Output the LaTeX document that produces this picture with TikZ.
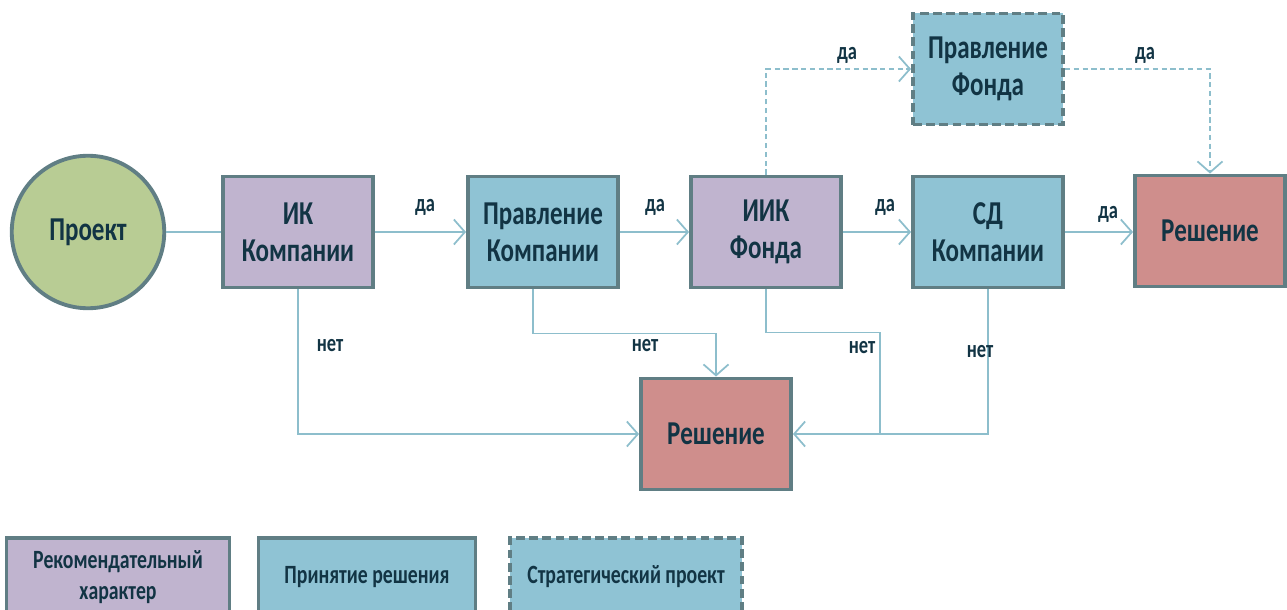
\documentclass[tikz,border=0pt]{standalone}
\usepackage{fontspec}
\setmainfont{Carlito}[FakeStretch=0.75]
\usepackage{tikz}
\usetikzlibrary{arrows.meta,positioning}
\definecolor{frame}{RGB}{96,126,132}
\definecolor{wire}{RGB}{141,190,204}
\definecolor{ink}{RGB}{18,52,68}
\definecolor{lilac}{RGB}{192,180,207}
\definecolor{teal}{RGB}{143,195,212}
\definecolor{rose}{RGB}{207,142,140}
\definecolor{olive}{RGB}{184,204,148}

\begin{document}
\begin{tikzpicture}[
  x=0.2mm, y=-0.2mm,
  box/.style={rectangle, draw=frame, line width=2.2pt, minimum width=3.0cm,
              minimum height=2.22cm, align=center, text=ink,
              font=\bfseries\fontsize{19}{21}\selectfont},
  rec/.style={box, fill=lilac},
  dec/.style={box, fill=teal},
  res/.style={box, fill=rose},
  strat/.style={box, fill=teal, dashed, dash pattern=on 5pt off 2.5pt},
  key/.style={rectangle, draw=frame, line width=2.2pt, minimum height=1.56cm,
              align=center, text=ink,
              font=\bfseries\fontsize{15}{17.6}\selectfont},
  lbl/.style={font=\bfseries\fontsize{14}{15}\selectfont, text=ink},
  conn/.style={draw=wire, line width=1pt},
  arr/.style={conn, -{Straight Barb[length=2.2mm, width=5mm]}},
  darr/.style={arr, dashed, dash pattern=on 3pt off 2pt}
]
\useasboundingbox (0,0) rectangle (1287,610);
% ── main row ──────────────────────────
\node[circle, draw=frame, fill=olive, line width=2.2pt, minimum size=3.05cm,
      text=ink, font=\bfseries\fontsize{19}{21}\selectfont] (proj) at (88,232) {Проект};
\node[rec] (ik)   at (298,232)  {ИК\\Компании};
\node[dec] (pk)   at (543,232)  {Правление\\Компании};
\node[rec] (iik)  at (766,232)  {ИИК\\Фонда};
\node[dec] (sd)   at (988,232)  {СД\\Компании};
\node[res] (res1) at (1210,231) {Решение};
\node[strat] (pf) at (988,69)   {Правление\\Фонда};
\node[res] (res2) at (716,434)  {Решение};
\coordinate (jn) at (880,434);
% ── yes ───────────────────────────────
\draw[conn] (proj) -- (ik);
\draw[arr] (ik) -- (pk);
\draw[arr] (pk) -- (iik);
\draw[arr] (iik) -- (sd);
\draw[arr] (sd.east) -- (sd.east -| res1.west);
\draw[darr] (iik.north) |- (pf.west);
\draw[darr] (pf.east) -| (res1.north);
\node[lbl] (y1) at (425,207)  {да};
\node[lbl] (y2) at (655,207)  {да};
\node[lbl] (y3) at (885,207)  {да};
\node[lbl] (y4) at (1108,214) {да};
\node[lbl] (y5) at (847,55)   {да};
\node[lbl] (y6) at (1145,55)  {да};
% ── no ────────────────────────────────
\draw[arr] (ik.south) |- (res2.west);
\draw[arr] ([xshift=-2mm]pk.south) -- ++(0,44) -| (res2.north);
\draw[conn] (iik.south) -- ++(0,43) -| (jn);
\draw[arr] (sd.south) |- (res2.east);
\node[lbl] (n1) at (330,346) {нет};
\node[lbl] (n2) at (645,346) {нет};
\node[lbl] (n3) at (862,348) {нет};
\node[lbl] (n4) at (980,352) {нет};
% ── legend ────────────────────────────
\node[key, fill=lilac, minimum width=4.46cm] (k1) at (118,577) {Рекомендательный\\характер};
\node[key, fill=teal, minimum width=4.34cm] (k2) at (367,577) {Принятие решения};
\node[key, fill=teal, minimum width=4.64cm, dashed, dash pattern=on 5pt off 2.5pt]
  (k3) at (626,577) {Стратегический проект};
\end{tikzpicture}
\end{document}
